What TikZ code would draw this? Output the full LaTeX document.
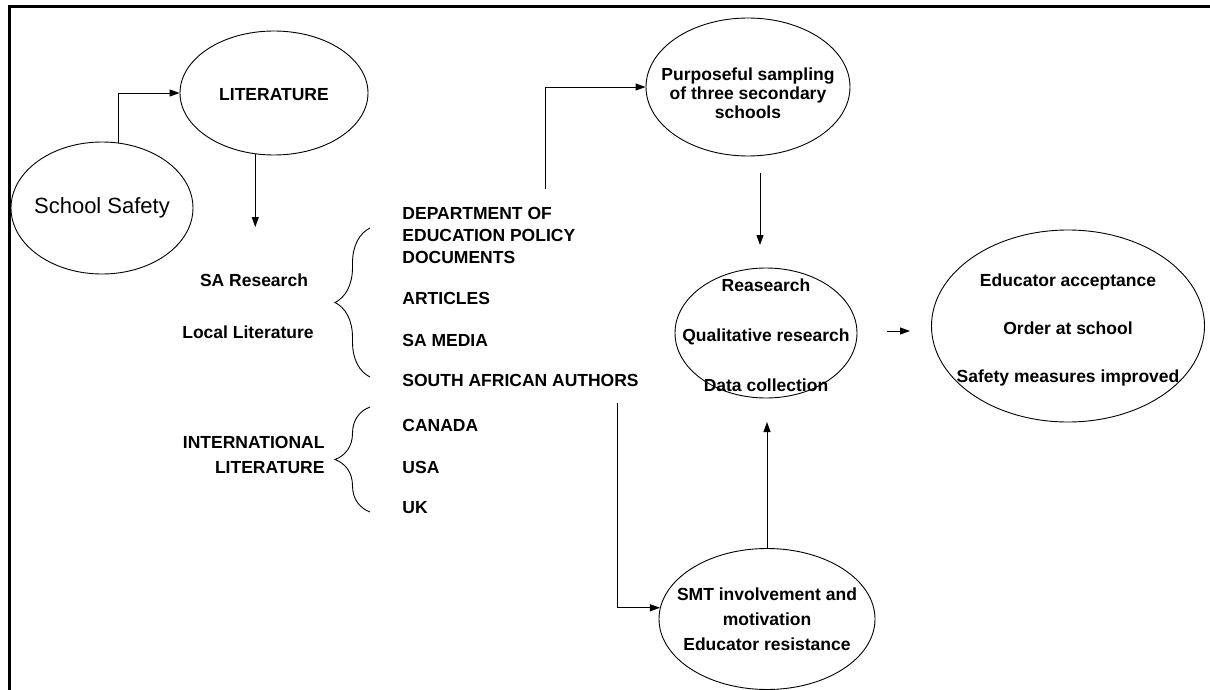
\documentclass[tikz,border=0pt]{standalone}
\usepackage{fontspec}
\setmainfont{Liberation Sans}
\usetikzlibrary{shapes.geometric,arrows.meta,decorations.pathreplacing}

\begin{document}
\begin{tikzpicture}[x=1pt,y=-1pt,line width=0.9pt,
  bub/.style={draw,ellipse,inner sep=0pt},
  btxt/.style={align=center,inner sep=0pt,font=\bfseries\fontsize{17.5}{19}\selectfont},
  txt/.style={anchor=west,align=left,inner sep=0pt,font=\bfseries\fontsize{17.5}{22}\selectfont},
  arr/.style={-{Triangle[length=10pt,width=7pt]}},
  curly/.style={decorate,decoration={brace,amplitude=35pt}}]
  \useasboundingbox (0,0) rectangle (1210,690);
  \draw[line width=3pt] (1210,6.5) -- (9,6.5) -- (9,690);

  \node[bub,minimum width=182pt,minimum height=132pt,
    label={[btxt,font=\fontsize{22}{26}\selectfont]center:School Safety}] (safety) at (102,208) {};
  \node[bub,minimum width=188pt,minimum height=124pt,
    label={[btxt,yshift=-2pt]center:LITERATURE}] (lit) at (274,93) {};
  \node[bub,minimum width=204pt,minimum height=138pt,
    label={[btxt,yshift=-6pt]center:{Purposeful sampling\\of three secondary\\schools}}] (purp) at (748,87) {};
  \node[bub,minimum width=182pt,minimum height=130pt,
    label={[btxt,yshift=-2pt]center:{Reasearch\\[31pt]Qualitative research\\[31pt]Data collection}}] (res) at (766,333) {};
  \node[bub,minimum width=273pt,minimum height=192pt,
    label={[btxt,yshift=-4pt]center:{Educator acceptance\\[29pt]Order at school\\[29pt]Safety measures improved}}] (out) at (1068,326) {};
  \node[bub,minimum width=216pt,minimum height=141pt,
    label={[btxt,font=\bfseries\fontsize{17.5}{25}\selectfont]center:{SMT involvement and\\motivation\\Educator resistance}}] (smt) at (767,619) {};

  \node[txt,anchor=center] (sares) at (254,280) {SA Research};
  \node[txt,anchor=center] (local) at (248,332) {Local Literature};
  \node[txt,anchor=east,align=right,font=\bfseries\fontsize{17.5}{25}\selectfont] (intl) at (325,455) {INTERNATIONAL\\LITERATURE};

  \node[txt] (doe) at (402,235) {DEPARTMENT OF\\EDUCATION POLICY\\DOCUMENTS};
  \foreach \name/\t/\y in {art/ARTICLES/298,media/SA MEDIA/340,authors/SOUTH AFRICAN AUTHORS/380,
      canada/CANADA/425,usa/USA/467,uk/UK/508}
    \node[txt] (\name) at (402,\y) {\t};

  \draw[curly] (370,377) -- (370,228);
  \draw[curly] (370,512) -- (370,407);

  \coordinate (litend) at (255,227);
  \coordinate (docup) at (545,189);
  \coordinate (pa) at (760,173);
  \coordinate (pb) at (760,245);
  \coordinate (ra) at (887,331);
  \coordinate (rb) at (910,331);
  \coordinate (resin) at (767,422);
  \coordinate (authdown) at (617,403);

  \draw[arr] (safety.76) |- (lit.west);
  \draw[arr] (lit.253) -- (lit.253 |- litend);
  \draw[arr] (docup) |- (purp.west);
  \draw[arr] (pa) -- (pb);
  \draw[arr] (ra) -- (rb);
  \draw[arr] (smt.north) -- (resin);
  \draw[arr] (authdown) |- (smt.174);
\end{tikzpicture}
\end{document}
